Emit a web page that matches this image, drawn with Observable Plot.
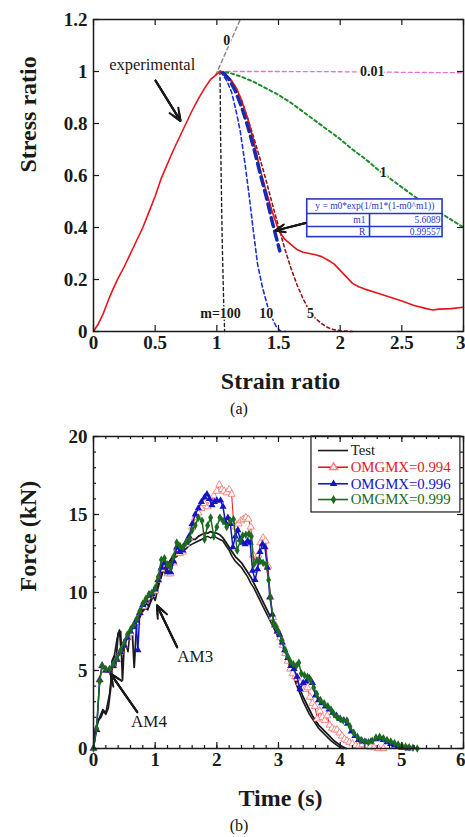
<!DOCTYPE html>
<html><head><meta charset="utf-8">
<script src="https://cdn.jsdelivr.net/npm/d3@7"></script>
<script src="https://cdn.jsdelivr.net/npm/@observablehq/plot@0.6"></script>
<style>
body{margin:0;background:#fff;font-family:"Liberation Serif","Times New Roman",serif;}
#wrap{position:relative;width:465px;height:837px;overflow:hidden;background:#fff}
.cap{position:absolute;left:209px;width:60px;text-align:center;font-size:16px;line-height:16px;color:#111}
</style></head>
<body><div id="wrap"></div>
<script>
// ---------- Chart (a) data ----------
const xTicksA = [0, 0.5, 1, 1.5, 2, 2.5, 3];
const yTicksA = [0, 0.2, 0.4, 0.6, 0.8, 1, 1.2];
const experimental = [[0,0],[0.04,0.03],[0.08,0.07],[0.12,0.12],[0.16,0.165],[0.2,0.205],[0.25,0.25],[0.3,0.3],[0.35,0.35],[0.4,0.4],[0.45,0.46],[0.5,0.52],[0.55,0.59],[0.6,0.645],[0.65,0.7],[0.7,0.75],[0.75,0.8],[0.8,0.85],[0.85,0.895],[0.9,0.935],[0.95,0.97],[1.0,0.99],[1.03,1.0],[1.07,0.99],[1.12,0.965],[1.16,0.935],[1.2,0.89],[1.25,0.82],[1.3,0.73],[1.35,0.625],[1.4,0.54],[1.45,0.46],[1.5,0.39],[1.55,0.355],[1.6,0.335],[1.65,0.315],[1.7,0.305],[1.75,0.3],[1.8,0.295],[1.85,0.288],[1.9,0.275],[1.95,0.26],[2.0,0.235],[2.05,0.21],[2.1,0.185],[2.15,0.172],[2.2,0.163],[2.3,0.148],[2.4,0.133],[2.5,0.117],[2.6,0.1],[2.7,0.088],[2.75,0.083],[2.8,0.086],[2.9,0.088],[3.0,0.093]];
const fitM1 = [[1.05,0.995],[1.1,0.97],[1.15,0.925],[1.2,0.865],[1.25,0.79],[1.3,0.705],[1.35,0.61],[1.4,0.52],[1.45,0.42],[1.51,0.31]];
const m0 = [[0.99,0.985],[1.19,1.2]];
const m001 = [[1.02,1.0],[1.5,1.0],[2.0,0.999],[2.5,0.997],[3.0,0.995]];
const m1 = [[1.02,1.0],[1.1,0.995],[1.2,0.98],[1.3,0.96],[1.4,0.935],[1.5,0.91],[1.6,0.88],[1.7,0.845],[1.8,0.81],[1.9,0.775],[2.0,0.74],[2.1,0.7],[2.2,0.665],[2.3,0.625],[2.4,0.59],[2.5,0.555],[2.6,0.52],[2.7,0.49],[2.8,0.46],[2.9,0.43],[3.0,0.4]];
const m5 = [[1.03,1.0],[1.1,0.975],[1.15,0.94],[1.2,0.89],[1.25,0.82],[1.3,0.745],[1.35,0.665],[1.4,0.58],[1.45,0.49],[1.5,0.405],[1.55,0.32],[1.6,0.245],[1.65,0.18],[1.7,0.125],[1.75,0.08],[1.8,0.05],[1.85,0.03],[1.9,0.015],[1.95,0.007],[2.0,0.003],[2.1,0.0]];
const m10 = [[1.03,1.0],[1.08,0.965],[1.12,0.92],[1.16,0.84],[1.19,0.77],[1.23,0.64],[1.26,0.53],[1.29,0.41],[1.33,0.26],[1.37,0.17],[1.41,0.1],[1.45,0.05],[1.48,0.02],[1.52,0.0],[1.56,0.0]];
const m100 = [[1.025,1.0],[1.028,0.9],[1.03,0.77],[1.035,0.6],[1.04,0.45],[1.045,0.32],[1.05,0.22],[1.055,0.12],[1.06,0.05],[1.063,0.0]];
const curveLabelsA = [
  {text:"0", x:1.08, y:1.12}, {text:"0.01", x:2.26, y:1.0}, {text:"1", x:2.35, y:0.613},
  {text:"m=100", x:1.03, y:0.069}, {text:"10", x:1.4, y:0.069}, {text:"5", x:1.76, y:0.069}
];
const fitTitle = "y = m0*exp(1/m1*(1-m0^m1))";
const fitRows = [{name:"m1", value:"5.6089"}, {name:"R", value:"0.99557"}];

// ---------- Chart (b) data ----------
const xTicksB = [0, 1, 2, 3, 4, 5, 6];
const yTicksB = [0, 5, 10, 15, 20];
const test1 = [[0,0],[0.03,1.1],[0.08,1.8],[0.12,2.0],[0.16,2.4],[0.2,2.2],[0.24,2.6],[0.28,3.9],[0.3,5.6],[0.33,5.9],[0.36,5.3],[0.4,7.4],[0.44,7.5],[0.47,4.4],[0.5,6.8],[0.55,7.2],[0.6,7.6],[0.63,7.4],[0.66,5.2],[0.7,8.0],[0.75,8.4],[0.8,8.8],[0.84,9.0],[0.88,8.9],[0.92,9.5],[0.96,9.8],[1.0,9.5],[1.04,10.2],[1.08,10.8],[1.12,11.5],[1.16,11.3],[1.2,11.8],[1.25,12.1],[1.3,12.4],[1.35,12.6],[1.4,12.9],[1.45,12.8],[1.5,13.1],[1.55,13.2],[1.6,13.4],[1.65,13.4],[1.7,13.6],[1.75,13.7],[1.8,13.8],[1.85,13.8],[1.9,13.9],[1.95,13.8],[2.0,13.8],[2.05,13.7],[2.1,13.5],[2.15,13.2],[2.2,12.9],[2.25,12.6],[2.3,12.3],[2.35,12.1],[2.4,11.9],[2.45,11.6],[2.5,11.3],[2.55,11.0],[2.6,10.6],[2.65,10.2],[2.7,9.8],[2.75,9.4],[2.8,9.0],[2.85,8.6],[2.9,8.2],[2.95,7.8],[3.0,7.4],[3.05,7.0],[3.1,6.5],[3.15,6.0],[3.2,5.5],[3.25,4.8],[3.3,4.3],[3.35,3.8],[3.4,3.3],[3.45,2.9],[3.5,2.5],[3.55,2.1],[3.6,1.8],[3.65,1.5],[3.7,1.3],[3.75,1.1],[3.8,0.9],[3.85,0.7],[3.9,0.5],[3.95,0.35],[4.0,0.2],[4.05,0.1],[4.1,0.0]];
const test2 = [[0,0],[0.04,1.4],[0.1,2.0],[0.15,2.5],[0.2,2.3],[0.26,3.5],[0.3,5.0],[0.34,6.0],[0.38,7.0],[0.42,7.6],[0.45,6.0],[0.5,7.0],[0.56,6.2],[0.6,7.8],[0.65,8.0],[0.7,7.9],[0.74,8.5],[0.8,8.9],[0.86,9.3],[0.9,9.1],[0.95,9.6],[1.0,10.0],[1.05,10.5],[1.1,11.0],[1.15,11.6],[1.2,11.5],[1.25,11.9],[1.3,12.2],[1.35,12.3],[1.4,12.6],[1.45,12.7],[1.5,12.8],[1.55,13.0],[1.6,13.1],[1.65,13.2],[1.7,13.3],[1.75,13.4],[1.8,13.5],[1.85,13.6],[1.9,13.5],[1.95,13.6],[2.0,13.5],[2.05,13.4],[2.1,13.3],[2.15,13.0],[2.2,12.7],[2.25,12.3],[2.3,12.0],[2.35,11.8],[2.4,11.6],[2.45,11.3],[2.5,11.0],[2.55,10.6],[2.6,10.3],[2.65,9.9],[2.7,9.5],[2.75,9.1],[2.8,8.7],[2.85,8.3],[2.9,7.9],[2.95,7.5],[3.0,7.1],[3.05,6.7],[3.1,6.2],[3.15,5.7],[3.2,5.1],[3.25,4.5],[3.3,4.0],[3.35,3.5],[3.4,3.0],[3.45,2.6],[3.5,2.2],[3.55,1.9],[3.6,1.6],[3.65,1.3],[3.7,1.1],[3.75,0.9],[3.8,0.7],[3.85,0.5],[3.9,0.35],[3.95,0.2],[4.0,0.05],[4.05,0.0]];
const omg994 = [[0,0],[0.05,1.2],[0.1,4.4],[0.14,5.3],[0.2,5.0],[0.26,5.0],[0.32,5.3],[0.38,5.7],[0.44,6.2],[0.5,6.6],[0.55,7.1],[0.6,7.4],[0.65,7.8],[0.7,8.1],[0.75,8.7],[0.8,9.1],[0.85,9.5],[0.9,9.8],[0.95,9.9],[1.0,10.1],[1.05,10.8],[1.1,11.5],[1.15,11.8],[1.2,11.2],[1.25,11.2],[1.3,11.9],[1.35,12.8],[1.4,12.5],[1.45,12.6],[1.5,13.1],[1.55,13.5],[1.6,14.2],[1.65,14.8],[1.7,15.1],[1.75,15.4],[1.8,15.7],[1.85,15.5],[1.9,15.7],[1.95,16.2],[2.0,16.5],[2.04,16.9],[2.08,16.6],[2.12,16.5],[2.16,16.4],[2.2,16.6],[2.24,16.3],[2.27,14.6],[2.31,14.2],[2.35,14.4],[2.39,14.6],[2.43,14.7],[2.47,14.8],[2.51,14.7],[2.55,14.2],[2.59,12.4],[2.63,11.9],[2.67,12.4],[2.71,13.2],[2.75,13.5],[2.79,13.3],[2.83,11.7],[2.87,9.7],[2.91,8.4],[2.95,7.9],[2.99,7.5],[3.03,7.1],[3.07,6.6],[3.11,6.1],[3.15,5.6],[3.19,5.1],[3.23,4.8],[3.27,4.6],[3.31,4.5],[3.35,4.2],[3.39,3.9],[3.43,3.8],[3.47,3.9],[3.51,3.3],[3.55,2.9],[3.59,2.7],[3.63,1.9],[3.67,2.4],[3.71,2.0],[3.75,1.8],[3.79,2.1],[3.83,1.5],[3.87,1.3],[3.91,1.2],[3.95,1.2],[3.99,1.0],[4.03,0.8],[4.07,0.6],[4.11,0.5],[4.15,0.4],[4.2,0.3],[4.25,0.2],[4.3,0.15],[4.36,0.25],[4.42,0.15],[4.48,0.1],[4.55,0.05],[4.62,0.0],[4.7,0.0]];
const omg996 = [[0,0],[0.05,1.2],[0.1,4.4],[0.14,5.3],[0.2,5.0],[0.26,5.0],[0.32,5.3],[0.38,5.7],[0.44,6.2],[0.5,6.6],[0.55,7.1],[0.6,7.5],[0.65,7.8],[0.69,8.2],[0.72,6.3],[0.75,8.7],[0.8,9.2],[0.85,9.5],[0.9,9.8],[0.95,9.9],[1.0,10.2],[1.05,10.8],[1.1,11.6],[1.15,11.9],[1.2,11.3],[1.25,11.3],[1.3,12.0],[1.35,12.9],[1.4,12.6],[1.45,12.7],[1.5,13.2],[1.55,13.6],[1.6,14.4],[1.65,15.0],[1.7,15.4],[1.75,15.8],[1.8,16.1],[1.84,16.3],[1.88,16.0],[1.92,15.6],[1.96,15.8],[2.0,15.9],[2.06,15.9],[2.1,15.5],[2.14,14.5],[2.18,14.8],[2.22,14.4],[2.26,12.9],[2.3,13.6],[2.34,14.0],[2.38,13.4],[2.42,13.2],[2.46,13.1],[2.5,13.3],[2.54,13.2],[2.58,11.4],[2.62,10.8],[2.66,11.5],[2.7,12.6],[2.74,13.1],[2.78,12.9],[2.82,11.6],[2.86,9.7],[2.9,8.6],[2.94,7.9],[2.98,7.5],[3.02,7.3],[3.06,6.8],[3.1,6.3],[3.15,5.8],[3.2,5.3],[3.25,5.1],[3.3,4.6],[3.35,3.8],[3.4,4.2],[3.45,4.3],[3.5,4.5],[3.55,4.2],[3.6,3.4],[3.65,3.1],[3.7,2.9],[3.76,2.7],[3.82,2.5],[3.88,2.3],[3.94,2.1],[4.0,1.9],[4.06,1.8],[4.12,1.6],[4.18,1.1],[4.24,0.8],[4.3,0.55],[4.36,0.45],[4.42,0.4],[4.5,0.45],[4.58,0.6],[4.64,0.65],[4.7,0.55],[4.76,0.4],[4.82,0.3],[4.88,0.2],[4.94,0.12],[5.0,0.06],[5.1,0.0]];
const omg999 = [[0,0],[0.05,1.3],[0.1,4.3],[0.14,5.3],[0.2,5.1],[0.26,5.1],[0.32,5.4],[0.38,5.8],[0.44,6.3],[0.5,6.8],[0.55,7.3],[0.6,7.6],[0.65,7.9],[0.7,8.3],[0.75,8.8],[0.8,9.3],[0.85,9.6],[0.9,9.9],[0.95,10.0],[1.0,10.3],[1.05,11.0],[1.1,12.1],[1.15,12.2],[1.2,11.8],[1.25,11.6],[1.3,12.3],[1.35,13.2],[1.4,13.0],[1.45,12.9],[1.5,13.2],[1.55,13.4],[1.6,14.0],[1.65,14.3],[1.7,14.8],[1.76,14.6],[1.8,13.4],[1.85,14.3],[1.9,14.8],[1.95,13.6],[2.0,14.2],[2.05,14.8],[2.1,14.6],[2.16,14.2],[2.22,14.6],[2.27,14.7],[2.33,12.7],[2.38,13.3],[2.42,13.65],[2.47,13.7],[2.52,13.76],[2.56,13.6],[2.6,11.8],[2.65,12.05],[2.7,12.0],[2.75,11.9],[2.8,11.8],[2.84,10.8],[2.87,9.7],[2.92,8.0],[2.96,7.8],[3.0,7.5],[3.06,6.9],[3.11,6.3],[3.15,5.9],[3.19,5.6],[3.24,5.4],[3.29,5.3],[3.33,5.5],[3.37,4.8],[3.42,4.7],[3.47,4.6],[3.52,4.4],[3.57,3.9],[3.62,3.5],[3.68,3.1],[3.74,2.9],[3.8,2.7],[3.85,2.5],[3.9,2.2],[3.95,2.0],[4.0,1.9],[4.05,1.8],[4.11,1.8],[4.16,1.4],[4.22,1.0],[4.28,0.75],[4.34,0.55],[4.4,0.45],[4.46,0.4],[4.52,0.5],[4.58,0.7],[4.64,0.75],[4.7,0.65],[4.76,0.55],[4.82,0.45],[4.88,0.35],[4.94,0.25],[5.0,0.18],[5.06,0.12],[5.12,0.08],[5.18,0.05],[5.25,0.0]];
const legendNames = ["Test", "OMGMX=0.994", "OMGMX=0.996", "OMGMX=0.999"];

// ---------- helpers ----------
const FONT = "'Liberation Serif','Times New Roman',serif";
const FW = 370, FH = 312, INK = "#1a1a1a";
const P = d => d[0], Q = d => d[1];
function frameTicks(xv, yv, len) {
  const o = {stroke: INK, strokeWidth: 1.2};
  return [
    Plot.tickX(xv, {x: d => d, insetTop: FH - len, ...o}),
    Plot.tickX(xv, {x: d => d, insetBottom: FH - len, ...o}),
    Plot.tickY(yv, {y: d => d, insetRight: FW - len, ...o}),
    Plot.tickY(yv, {y: d => d, insetLeft: FW - len, ...o})
  ];
}
function arrowFilled(data, opts) {
  return [10, 7, 4].map(h => Plot.arrow(data, {...opts, headLength: h, headAngle: 45, stroke: INK, strokeWidth: 2}));
}
function axesText(xt, yt, xTitle, yTitle, yTitleDy) {
  const tickFont = {fontSize: 19, fontWeight: "bold", fill: INK};
  const last = xt[xt.length - 1];
  return [
    Plot.axisX({ticks: xt.slice(0, -1), anchor: "bottom", tickSize: 0, tickPadding: 4, tickFormat: d => String(d), label: null, ...tickFont}),
    // last tick label sits at the right edge of the picture, anchored at its end
    Plot.text([last], {x: d => d, text: d => String(d), frameAnchor: "bottom", dy: 4, dx: 2, lineAnchor: "top", textAnchor: "end", ...tickFont}),
    Plot.axisY({ticks: yt, anchor: "left", tickSize: 0, tickPadding: 6, tickFormat: d => String(d), label: null, ...tickFont}),
    Plot.text([xTitle], {text: d => d, frameAnchor: "bottom", dy: 57, dx: 2, lineAnchor: "bottom", fontSize: 24, fontWeight: "bold", fill: INK}),
    Plot.text([yTitle], {text: d => d, frameAnchor: "left", rotate: -90, dx: -58, dy: yTitleDy, lineAnchor: "bottom", fontSize: 24, fontWeight: "bold", fill: INK})
  ];
}

// ---------- Chart (a) ----------
const TBL = "#2438c8";
const box = {x1: 1.733, x2: 2.83, y1: 0.363, y2: 0.508};
const rowLines = [0.454, 0.404];
const plotA = Plot.plot({
  width: 465, height: 400,
  marginLeft: 93, marginRight: 2, marginTop: 19, marginBottom: 69,
  style: {fontFamily: FONT, background: "white", color: INK, overflow: "visible"},
  x: {domain: [0, 3]}, y: {domain: [0, 1.2]},
  marks: [
    Plot.line(m0, {x: P, y: Q, stroke: "#8a8a8a", strokeWidth: 1.5, strokeDasharray: "4,3"}),
    Plot.line(m001, {x: P, y: Q, stroke: "#e870d0", strokeWidth: 1.3, strokeDasharray: "4,3"}),
    Plot.line(m1, {x: P, y: Q, stroke: "#1f8a2a", strokeWidth: 2, strokeDasharray: "3,3"}),
    Plot.line(m5, {x: P, y: Q, stroke: "#8b1a1a", strokeWidth: 1.6, strokeDasharray: "3,3"}),
    Plot.line(m10, {x: P, y: Q, stroke: "#2030d0", strokeWidth: 1.6, strokeDasharray: "4,3"}),
    Plot.line(m100, {x: P, y: Q, stroke: "#222", strokeWidth: 1.4, strokeDasharray: "3,3"}),
    Plot.line(experimental, {x: P, y: Q, stroke: "#e8141b", strokeWidth: 1.6}),
    Plot.line(fitM1, {x: P, y: Q, stroke: "#1a2ab0", strokeWidth: 3.5, strokeDasharray: "9,5"}),
    Plot.text(curveLabelsA, {x: "x", y: "y", text: "text", fontSize: 14, fontWeight: "bold", fill: INK, stroke: "white", strokeWidth: 3}),
    Plot.text(["experimental"], {text: d => d, x: 0.476, y: 1.027, fontSize: 16.5, fill: INK}),
    ...arrowFilled([{x1: 0.503, y1: 0.965, x2: 0.705, y2: 0.81}], {x1: "x1", y1: "y1", x2: "x2", y2: "y2"}),
    // fit table
    Plot.rect([box], {x1: "x1", x2: "x2", y1: "y1", y2: "y2", fill: "white", stroke: TBL, strokeWidth: 1.6}),
    Plot.ruleY(rowLines, {y: d => d, x1: box.x1, x2: box.x2, stroke: TBL, strokeWidth: 1.4}),
    Plot.ruleX([2.238], {x: d => d, y1: box.y1, y2: rowLines[0], stroke: TBL, strokeWidth: 1.6}),
    Plot.text([fitTitle], {text: d => d, x: (box.x1 + box.x2) / 2, y: 0.481, fontSize: 9.5, fill: TBL}),
    Plot.text(fitRows, {text: "name", x: 2.205, y: (d, i) => [0.429, 0.3835][i], textAnchor: "end", fontSize: 9.5, fill: TBL}),
    Plot.text(fitRows, {text: "value", x: 2.814, y: (d, i) => [0.429, 0.3835][i], textAnchor: "end", fontSize: 9.5, fill: TBL}),
    ...arrowFilled([{x1: 1.72, y1: 0.417, x2: 1.476, y2: 0.388}], {x1: "x1", y1: "y1", x2: "x2", y2: "y2"}),
    Plot.frame({stroke: INK, strokeWidth: 1.5}),
    ...frameTicks(xTicksA, yTicksA, 6),
    ...axesText(xTicksA, yTicksA, "Strain ratio", "Stress ratio", -3)
  ]
});

// ---------- Chart (b) ----------
const RED = "#e41a1c", RED_M = "#ff7a7a", BLUE = "#1414c4", GREEN = "#1b6b21";
const lx1 = 3.65, lx2 = 4.135, ltx = 4.17;
const legendY = [19.1, 18.03, 16.97, 15.96];
const legendColors = [INK, RED, BLUE, GREEN];
const xMinorB = d3.range(0, 6.001, 0.2);
const yMinorB = d3.range(0, 20.001, 1);
const plotB = Plot.plot({
  width: 465, height: 395,
  marginLeft: 93, marginRight: 2, marginTop: 16, marginBottom: 67,
  style: {fontFamily: FONT, background: "white", color: INK, overflow: "visible"},
  x: {domain: [0, 6]}, y: {domain: [0, 20]},
  marks: [
    Plot.line(test2, {x: P, y: Q, stroke: INK, strokeWidth: 1.6}),
    Plot.line(test1, {x: P, y: Q, stroke: INK, strokeWidth: 1.8}),
    Plot.line(omg994, {x: P, y: Q, stroke: RED, strokeWidth: 1}),
    Plot.dot(omg994, {x: P, y: Q, symbol: "triangle", r: 2.7, stroke: RED_M, fill: "white", strokeWidth: 0.9}),
    Plot.line(omg996, {x: P, y: Q, stroke: BLUE, strokeWidth: 1.5}),
    Plot.dot(omg996, {x: P, y: Q, symbol: "triangle", r: 2.7, fill: BLUE}),
    Plot.line(omg999, {x: P, y: Q, stroke: GREEN, strokeWidth: 1.5}),
    Plot.dot(omg999, {x: P, y: Q, symbol: "diamond", r: 2.6, fill: GREEN}),
    // annotations
    Plot.text(["AM3"], {text: d => d, x: 1.65, y: 5.9, fontSize: 17, fill: INK}),
    Plot.text(["AM4"], {text: d => d, x: 0.9, y: 1.71, fontSize: 17, fill: INK}),
    ...arrowFilled([{x1: 1.357, y1: 6.49, x2: 1.03, y2: 9.17}, {x1: 0.71, y1: 2.33, x2: 0.276, y2: 4.8}], {x1: "x1", y1: "y1", x2: "x2", y2: "y2"}),
    // legend
    Plot.rect([{x1: 3.535, x2: 5.95, y1: 15.13, y2: 20}], {x1: "x1", x2: "x2", y1: "y1", y2: "y2", fill: "white", stroke: INK, strokeWidth: 1.2}),
    Plot.ruleY(legendNames, {y: (d, i) => legendY[i], x1: lx1, x2: lx2, stroke: (d, i) => legendColors[i], strokeWidth: 1.6}),
    Plot.dot([legendNames[1]], {x: (lx1 + lx2) / 2, y: legendY[1], symbol: "triangle", r: 2.8, stroke: RED_M, fill: "white"}),
    Plot.dot([legendNames[2]], {x: (lx1 + lx2) / 2, y: legendY[2], symbol: "triangle", r: 2.8, fill: BLUE}),
    Plot.dot([legendNames[3]], {x: (lx1 + lx2) / 2, y: legendY[3], symbol: "diamond", r: 2.8, fill: GREEN}),
    Plot.text(legendNames, {text: d => d, x: ltx, y: (d, i) => legendY[i], textAnchor: "start", fontSize: 14.8, fill: (d, i) => legendColors[i]}),
    Plot.frame({stroke: INK, strokeWidth: 1.5}),
    ...frameTicks(xMinorB, yMinorB, 3),
    ...frameTicks(xTicksB, yTicksB, 6),
    ...axesText(xTicksB, yTicksB, "Time (s)", "Force (kN)", -1)
  ],
  color: {type: "identity"}
});

const wrap = document.getElementById("wrap");
plotA.style.position = "absolute"; plotA.style.left = "0px"; plotA.style.top = "0px";
plotB.style.position = "absolute"; plotB.style.left = "0px"; plotB.style.top = "420px";
wrap.appendChild(plotA);
wrap.appendChild(plotB);
for (const [t, top] of [["(a)", 401], ["(b)", 818]]) {
  const c = document.createElement("div");
  c.className = "cap"; c.textContent = t; c.style.top = top + "px";
  wrap.appendChild(c);
}
</script></body></html>
